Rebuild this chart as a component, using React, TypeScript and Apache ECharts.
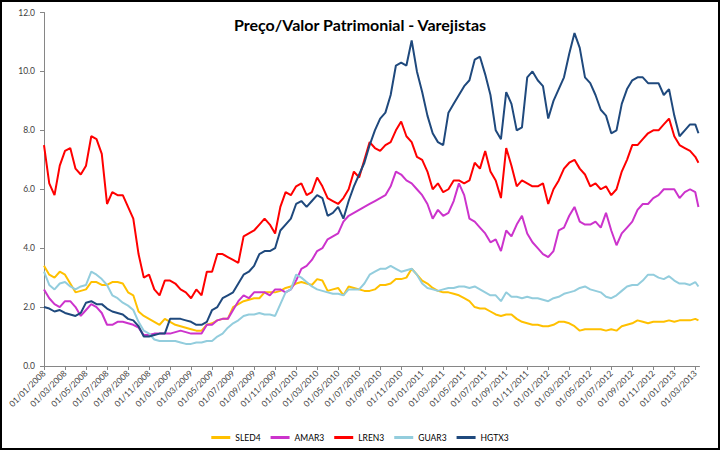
import React, { useEffect, useRef } from "react";
import * as echarts from "echarts";

// x positions in months since 01/01/2008 (semi-monthly readings)
const monthPos: number[] = Array.from({ length: 125 }, (_, i) => i / 2).concat([62.3]);

const seriesNames = ["SLED4", "AMAR3", "LREN3", "GUAR3", "HGTX3"];
const seriesColors = ["#FFC000", "#CC33CC", "#FF0000", "#93CDDD", "#1F497D"];

const SLED4 = [
  3.4, 3.1, 3.0, 3.2, 3.1, 2.8, 2.5, 2.55, 2.6, 2.85,
  2.85, 2.75, 2.75, 2.85, 2.85, 2.8, 2.5, 2.4, 1.85, 1.7,
  1.6, 1.5, 1.4, 1.6, 1.5, 1.4, 1.35, 1.3, 1.25, 1.2,
  1.2, 1.4, 1.45, 1.55, 1.6, 1.6, 2.0, 2.1, 2.2, 2.25,
  2.3, 2.3, 2.5, 2.5, 2.5, 2.55, 2.65, 2.7, 2.8, 2.85,
  2.8, 2.75, 2.95, 2.9, 2.55, 2.6, 2.65, 2.4, 2.7, 2.65,
  2.6, 2.55, 2.55, 2.6, 2.75, 2.75, 2.8, 2.95, 2.95, 3.0,
  3.3, 3.1, 2.9, 2.8, 2.65, 2.55, 2.5, 2.5, 2.45, 2.4,
  2.3, 2.2, 2.0, 1.95, 1.95, 1.85, 1.75, 1.7, 1.75, 1.75,
  1.6, 1.5, 1.45, 1.4, 1.4, 1.35, 1.35, 1.4, 1.5, 1.5,
  1.45, 1.35, 1.2, 1.25, 1.25, 1.25, 1.25, 1.2, 1.25, 1.2,
  1.35, 1.4, 1.45, 1.55, 1.5, 1.45, 1.5, 1.5, 1.5, 1.55,
  1.5, 1.55, 1.55, 1.55, 1.6, 1.55,
];

const AMAR3 = [
  2.6, 2.3, 2.1, 2.0, 2.2, 2.2, 2.0, 1.7, 1.9, 2.1,
  2.0, 1.8, 1.4, 1.4, 1.5, 1.5, 1.45, 1.4, 1.3, 1.05,
  1.05, 1.1, 1.1, 1.1, 1.1, 1.15, 1.2, 1.15, 1.1, 1.1,
  1.1, 1.4, 1.4, 1.55, 1.6, 1.6, 1.9, 2.2, 2.4, 2.3,
  2.5, 2.5, 2.5, 2.4, 2.6, 2.6, 2.5, 2.6, 2.9, 3.3,
  3.4, 3.6, 3.9, 4.0, 4.3, 4.4, 4.5, 4.9, 5.1, 5.2,
  5.3, 5.4, 5.5, 5.6, 5.7, 5.8, 6.1, 6.6, 6.5, 6.3,
  6.2, 6.0, 5.8, 5.5, 5.0, 5.3, 5.1, 5.2, 5.6, 6.2,
  5.8, 5.0, 4.9, 4.7, 4.5, 4.2, 4.3, 3.9, 4.6, 4.4,
  4.8, 5.1, 4.5, 4.2, 4.0, 3.8, 3.7, 3.9, 4.6, 4.7,
  5.1, 5.4, 4.9, 4.8, 4.8, 4.9, 4.7, 5.2, 4.6, 4.1,
  4.5, 4.7, 4.9, 5.3, 5.5, 5.5, 5.7, 5.8, 6.0, 6.0,
  6.0, 5.7, 5.9, 6.0, 5.9, 5.4,
];

const LREN3 = [
  7.5, 6.2, 5.8, 6.8, 7.3, 7.4, 6.7, 6.5, 6.8, 7.8,
  7.7, 7.2, 5.5, 5.9, 5.8, 5.8, 5.4, 5.0, 3.8, 3.0,
  3.1, 2.6, 2.4, 2.9, 2.9, 2.8, 2.6, 2.5, 2.3, 2.6,
  2.4, 3.2, 3.2, 3.8, 3.8, 3.7, 3.6, 3.5, 4.4, 4.5,
  4.6, 4.8, 5.0, 4.8, 4.5, 5.4, 5.9, 5.8, 6.1, 6.2,
  5.8, 5.9, 6.4, 6.1, 5.7, 5.6, 5.5, 5.7, 6.0, 6.6,
  6.4, 7.0, 7.6, 7.4, 7.3, 7.5, 7.6, 8.0, 8.3, 7.8,
  7.6, 7.1, 7.0, 6.6, 6.0, 6.2, 5.9, 6.0, 6.3, 6.3,
  6.2, 6.3, 6.9, 6.7, 7.3, 6.6, 6.3, 5.7, 7.4, 6.8,
  6.1, 6.3, 6.2, 6.1, 6.1, 6.2, 5.5, 6.0, 6.3, 6.7,
  6.9, 7.0, 6.7, 6.5, 6.1, 6.2, 6.0, 6.1, 5.8, 6.0,
  6.6, 7.0, 7.5, 7.5, 7.7, 7.9, 8.0, 8.0, 8.2, 8.4,
  7.8, 7.5, 7.4, 7.3, 7.1, 6.9,
];

const GUAR3 = [
  3.2, 2.75, 2.6, 2.8, 2.85, 2.7, 2.6, 2.7, 2.75, 3.2,
  3.1, 2.95, 2.75, 2.4, 2.3, 2.15, 2.05, 1.9, 1.5, 1.2,
  1.1, 0.9, 0.85, 0.85, 0.85, 0.85, 0.8, 0.75, 0.75, 0.8,
  0.8, 0.85, 0.85, 1.0, 1.1, 1.3, 1.45, 1.55, 1.7, 1.75,
  1.75, 1.8, 1.75, 1.75, 1.7, 2.1, 2.5, 2.6, 3.1, 3.0,
  2.85, 2.7, 2.6, 2.55, 2.5, 2.45, 2.45, 2.4, 2.6, 2.6,
  2.6, 2.8, 3.1, 3.2, 3.3, 3.3, 3.4, 3.3, 3.2, 3.25,
  3.3, 3.1, 2.8, 2.65, 2.6, 2.55, 2.6, 2.65, 2.65, 2.7,
  2.7, 2.65, 2.7, 2.6, 2.5, 2.4, 2.4, 2.2, 2.5, 2.35,
  2.35, 2.3, 2.35, 2.3, 2.3, 2.25, 2.2, 2.3, 2.35, 2.45,
  2.5, 2.55, 2.65, 2.7, 2.6, 2.55, 2.5, 2.35, 2.3, 2.4,
  2.55, 2.7, 2.75, 2.75, 2.9, 3.1, 3.1, 3.0, 2.95, 3.05,
  2.9, 2.8, 2.8, 2.75, 2.85, 2.7,
];

const HGTX3 = [
  2.0, 1.95, 1.85, 1.9, 1.8, 1.75, 1.7, 1.8, 2.15, 2.2,
  2.1, 2.1, 1.95, 1.85, 1.8, 1.75, 1.6, 1.55, 1.35, 1.0,
  1.0, 1.05, 1.1, 1.1, 1.6, 1.6, 1.6, 1.55, 1.5, 1.4,
  1.4, 1.5, 1.9, 2.0, 2.3, 2.4, 2.5, 2.8, 3.1, 3.2,
  3.4, 3.8, 3.9, 3.9, 4.0, 4.6, 4.8, 5.0, 5.5, 5.6,
  5.4, 5.6, 5.8, 5.7, 5.1, 5.2, 5.4, 5.0, 5.6, 6.1,
  6.5, 6.9, 7.5, 8.0, 8.4, 8.6, 9.2, 10.2, 10.3, 10.2,
  11.05, 10.0, 9.3, 8.5, 7.9, 7.6, 7.5, 8.6, 8.9, 9.2,
  9.5, 9.7, 10.4, 10.5, 9.9, 9.2, 8.0, 7.7, 9.3, 8.9,
  8.0, 8.1, 9.8, 10.0, 9.7, 9.5, 8.4, 9.0, 9.4, 9.8,
  10.6, 11.3, 10.8, 9.8, 9.6, 9.2, 8.7, 8.5, 7.9, 8.0,
  8.9, 9.4, 9.7, 9.8, 9.8, 9.6, 9.6, 9.6, 9.2, 9.4,
  8.5, 7.8, 8.0, 8.2, 8.2, 7.9,
];

const seriesValues = [SLED4, AMAR3, LREN3, GUAR3, HGTX3];

const yTicks = { min: 0, max: 12, interval: 2 };
const xStartYear = 2008;

const FONT = "Lato, 'Open Sans', sans-serif";

export default function App() {
  const ref = useRef<HTMLDivElement>(null);

  useEffect(() => {
    if (!ref.current) return;
    const chart = echarts.init(ref.current, undefined, { renderer: "svg" });

    const monthLabel = (v: number) => {
      if (Math.abs(v - Math.round(v)) > 1e-6) return "";
      const m = Math.round(v);
      const year = xStartYear + Math.floor(m / 12);
      const month = (m % 12) + 1;
      return `01/${month < 10 ? "0" + month : month}/${year}`;
    };

    chart.setOption({
      animation: false,
      backgroundColor: "#ffffff",
      textStyle: { fontFamily: FONT },
      title: {
        text: "Preço/Valor Patrimonial - Varejistas",
        left: "center",
        top: 11,
        textStyle: { fontFamily: FONT, fontSize: 16, fontWeight: "bold", color: "#000000" },
      },
      graphic: [
        {
          type: "rect",
          shape: { x: 1, y: 1, width: 718, height: 448 },
          style: { fill: "none", stroke: "#000000", lineWidth: 2 },
          silent: true,
          z: 100,
        },
      ],
      legend: {
        data: seriesNames,
        left: "center",
        top: 428,
        icon: "rect",
        itemWidth: 19,
        itemHeight: 3,
        itemGap: 10,
        textStyle: { fontFamily: FONT, fontSize: 8.5, color: "#000000" },
      },
      grid: { left: 44, right: 20.5, top: 12.5, bottom: 84, containLabel: false },
      xAxis: {
        type: "value",
        min: 0,
        max: 62.4,
        interval: 2,
        splitLine: { show: false },
        axisLine: { show: true, lineStyle: { color: "#868686", width: 1 } },
        axisTick: { show: true, length: 4, lineStyle: { color: "#868686" } },
        axisLabel: {
          rotate: 45,
          margin: 6,
          fontSize: 8.5,
          color: "#404040",
          fontFamily: FONT,
          showMaxLabel: false,
          formatter: monthLabel,
        },
      },
      yAxis: {
        type: "value",
        min: yTicks.min,
        max: yTicks.max,
        interval: yTicks.interval,
        splitLine: { show: false },
        axisLine: { show: true, lineStyle: { color: "#868686", width: 1 } },
        axisTick: { show: true, length: 4, lineStyle: { color: "#868686" } },
        axisLabel: {
          margin: 9,
          fontSize: 8.5,
          color: "#404040",
          fontFamily: FONT,
          formatter: (v: number) => v.toFixed(1),
        },
      },
      series: seriesNames.map((name, k) => ({
        name,
        type: "line",
        showSymbol: false,
        symbol: "none",
        color: seriesColors[k],
        lineStyle: { width: 2, color: seriesColors[k] },
        data: monthPos.map((x, i) => [x, seriesValues[k][i]]),
      })),
    });

    return () => chart.dispose();
  }, []);

  return (
    <div
      ref={ref}
      style={{ position: "fixed", left: 0, top: 0, width: 720, height: 450 }}
    />
  );
}
